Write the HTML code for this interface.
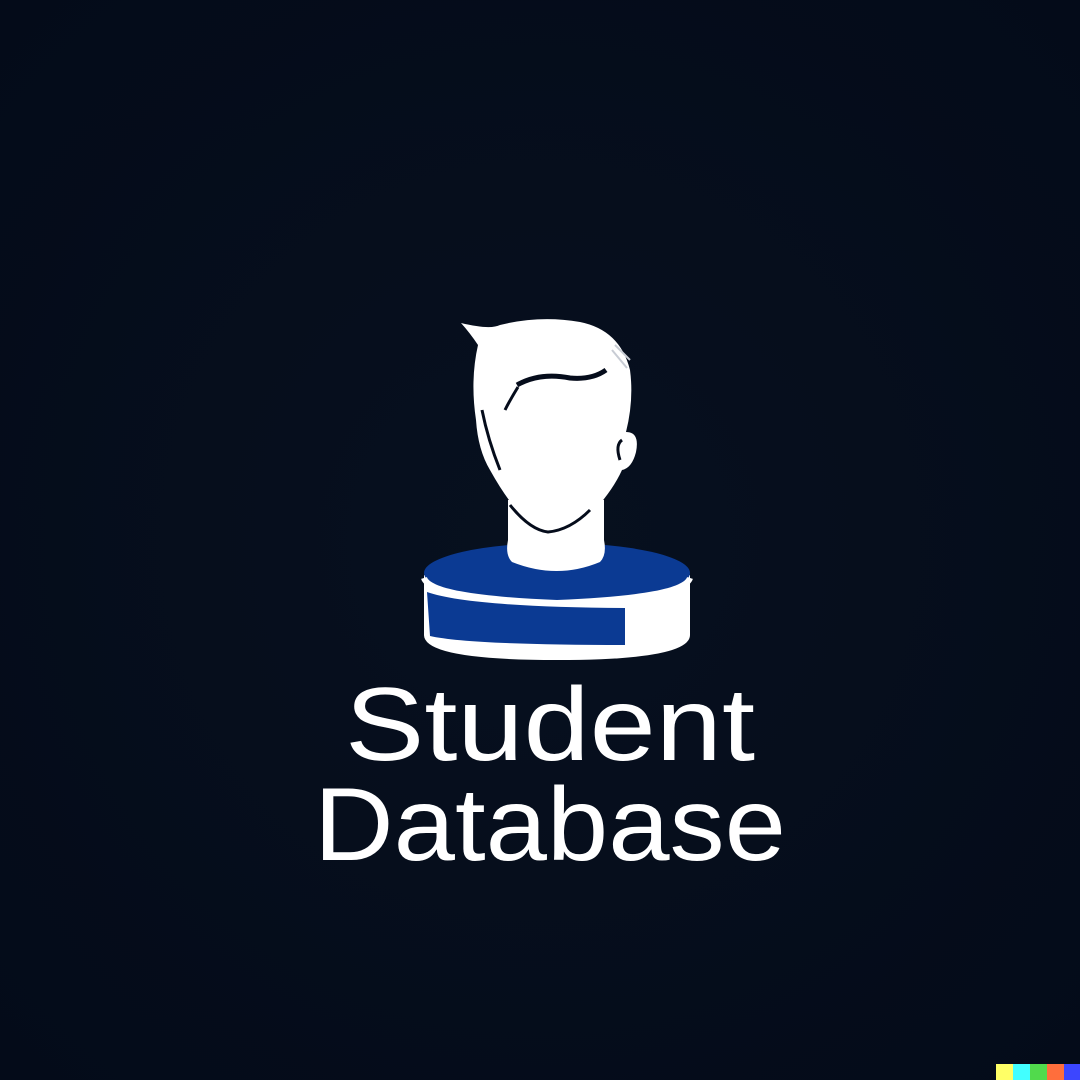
<!DOCTYPE html>
<html><head><meta charset="utf-8"><style>
html,body{margin:0;padding:0;background:#050c1b;}
svg{display:block}
</style></head><body>
<svg width="1080" height="1080" viewBox="0 0 1080 1080" xmlns="http://www.w3.org/2000/svg">
<defs>
<radialGradient id="bg" cx="50%" cy="50%" r="70%">
<stop offset="0" stop-color="#07101f"/><stop offset="1" stop-color="#040b19"/>
</radialGradient>
</defs>
<rect width="1080" height="1080" fill="url(#bg)"/>
<!-- base disk -->
<path d="M424 575 L424 635 Q424 660 557 660 Q690 660 690 635 L690 575 Z" fill="#ffffff"/>
<ellipse cx="557" cy="573" rx="133" ry="30" fill="#0b3a93"/>
<path d="M424 578 Q430 598 557 603 Q684 598 690 578" fill="none" stroke="#ffffff" stroke-width="6"/>
<path d="M427 592 Q470 607 625 608 L625 645 Q470 645 430 636 Z" fill="#0b3a93"/>
<!-- neck -->
<path d="M508 500 L508 540 Q505 555 512 562 Q557 580 600 562 Q607 555 604 540 L604 500 Z" fill="#ffffff"/>
<!-- head -->
<path d="M461 323 Q490 330 500 325 Q540 315 580 322 Q620 330 630 370 Q634 400 626 432 Q640 432 636 452 Q632 468 622 470 Q612 492 590 515 Q570 534 545 530 Q520 524 490 470 Q478 450 476 420 Q470 380 478 345 Q470 333 461 323 Z" fill="#ffffff"/>
<path d="M517 385 Q540 372 570 378 Q592 380 606 370" fill="none" stroke="#050c1b" stroke-width="5"/>
<path d="M518 387 Q510 400 505 410" fill="none" stroke="#050c1b" stroke-width="3"/>
<path d="M615 345 L630 360 M612 350 L627 368" stroke="#c8ccd4" stroke-width="2"/>
<path d="M482 410 Q488 440 500 470" fill="none" stroke="#050c1b" stroke-width="3"/>
<path d="M510 505 Q530 530 548 532 Q570 530 590 510" fill="none" stroke="#050c1b" stroke-width="3"/>
<path d="M622 440 Q615 445 620 460" fill="none" stroke="#050c1b" stroke-width="3"/>
<!-- text -->
<text x="345" y="760" font-family="Liberation Sans, sans-serif" font-size="104" fill="#ffffff" textLength="410" lengthAdjust="spacingAndGlyphs">Student</text>
<text x="314" y="860" font-family="Liberation Sans, sans-serif" font-size="104" fill="#ffffff" textLength="472" lengthAdjust="spacingAndGlyphs">Database</text>
<!-- corner color strip -->
<rect x="996" y="1064" width="17" height="16" fill="#ffff66"/>
<rect x="1013" y="1064" width="17" height="16" fill="#42ffff"/>
<rect x="1030" y="1064" width="17" height="16" fill="#51da4c"/>
<rect x="1047" y="1064" width="17" height="16" fill="#ff6e3c"/>
<rect x="1064" y="1064" width="16" height="16" fill="#3c46ff"/>
</svg>
</body></html>
